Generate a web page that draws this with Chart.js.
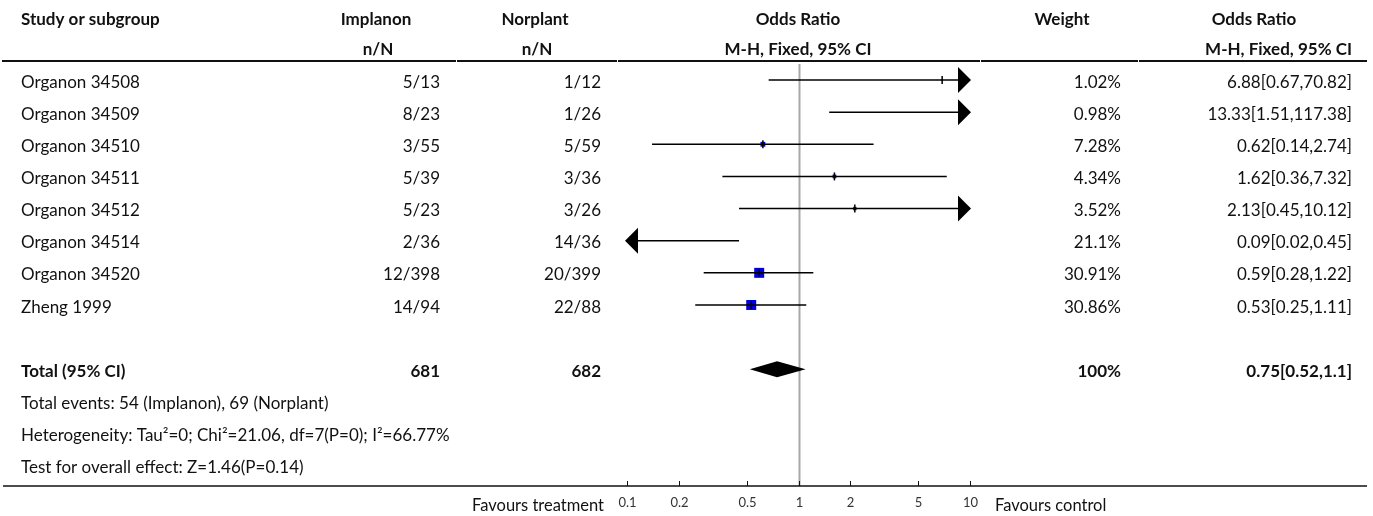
<!DOCTYPE html>
<html><head><meta charset="utf-8">
<script src="https://cdn.jsdelivr.net/npm/chart.js@4.4.0/dist/chart.umd.min.js"></script>
<style>html,body{margin:0;padding:0;background:#fff;}#wrap{position:relative;width:1373px;height:516px;}</style>
</head><body><div id="wrap"><canvas id="c" width="1373" height="516"></canvas></div>
<script>
// ---------- data ----------
const studies = ["Organon 34508","Organon 34509","Organon 34510","Organon 34511","Organon 34512","Organon 34514","Organon 34520","Zheng 1999"];
const implanonEvents = [5,8,3,5,5,2,12,14];
const implanonTotal  = [13,23,55,39,23,36,398,94];
const norplantEvents = [1,1,5,3,3,14,20,22];
const norplantTotal  = [12,26,59,36,26,36,399,88];
const weights = [1.02,0.98,7.28,4.34,3.52,21.1,30.91,30.86];
const oddsRatio = [6.88,13.33,0.62,1.62,2.13,0.09,0.59,0.53];
const ciLow  = [0.67,1.51,0.14,0.36,0.45,0.02,0.28,0.25];
const ciHigh = [70.82,117.38,2.74,7.32,10.12,0.45,1.22,1.11];
const totalLabel = "Total (95% CI)";
const totalImplanon = 681, totalNorplant = 682, totalWeight = 100;
const totalOR = 0.75, totalLow = 0.52, totalHigh = 1.1;
const footnotes = ["Total events: 54 (Implanon), 69 (Norplant)",
  "Heterogeneity: Tau\u00b2=0; Chi\u00b2=21.06, df=7(P=0); I\u00b2=66.77%",
  "Test for overall effect: Z=1.46(P=0.14)"];
const xTicks = [0.1,0.2,0.5,1,2,5,10];
const xMin = 0.1, xMax = 10;
const favoursLeft = "Favours treatment", favoursRight = "Favours control";

// ---------- layout ----------
const W = 1373, H = 516;
const FONT = "Lato";
const FS = 17;
const totalRow = studies.length + 1;

const inRange = v => v >= xMin && v <= xMax;
const squareData = [], squareRadius = [], tickData = [];
studies.forEach((s,i)=>{
  if (inRange(oddsRatio[i])) {
    squareData.push({x: oddsRatio[i], y: i});
    squareRadius.push(10*Math.sqrt(weights[i]/31)/Math.SQRT2);
    tickData.push({x: oddsRatio[i], y: i});
  }
});
const ciDatasets = studies.map((s,i)=>({
  type:'line', data:[{x:ciLow[i],y:i},{x:ciHigh[i],y:i}],
  borderColor:'#000', borderWidth:1.5, pointRadius:0, order:2
}));

function txt(ctx, s, x, y, align, bold, size, color){
  const fs = size || FS;
  ctx.font = (bold?'bold ':'') + fs + 'px ' + FONT;
  ctx.textAlign = align; ctx.textBaseline = 'alphabetic';
  ctx.fillStyle = color || '#111';
  ctx.fillText(s, x, y + 0.36*fs);
}

const forestPlugin = {
  id:'forest',
  beforeDatasetsDraw(chart){
    const ctx = chart.ctx, xs = chart.scales.x;
    const x1 = Math.round(xs.getPixelForValue(1)) + 0.5;
    ctx.save();
    ctx.strokeStyle = '#a8a8a8'; ctx.lineWidth = 2;
    ctx.beginPath(); ctx.moveTo(x1, 64); ctx.lineTo(x1, 486); ctx.stroke();
    ctx.restore();
  },
  afterDatasetsDraw(chart){
    const ctx = chart.ctx, xs = chart.scales.x, ys = chart.scales.y;
    const L = chart.chartArea.left, R = chart.chartArea.right;
    ctx.save();
    ctx.fillStyle = '#000';
    studies.forEach((s,i)=>{
      const y = ys.getPixelForValue(i);
      if (ciHigh[i] > xMax) {
        ctx.beginPath(); ctx.moveTo(R+1, y); ctx.lineTo(R-12, y-13); ctx.lineTo(R-12, y+13); ctx.closePath(); ctx.fill();
      }
      if (ciLow[i] < xMin) {
        ctx.beginPath(); ctx.moveTo(L-2, y); ctx.lineTo(L+11, y-13); ctx.lineTo(L+11, y+13); ctx.closePath(); ctx.fill();
      }
    });
    const yt = ys.getPixelForValue(totalRow);
    ctx.beginPath();
    ctx.moveTo(xs.getPixelForValue(totalLow), yt);
    ctx.lineTo(xs.getPixelForValue(totalOR), yt-8);
    ctx.lineTo(xs.getPixelForValue(totalHigh), yt);
    ctx.lineTo(xs.getPixelForValue(totalOR), yt+8);
    ctx.closePath(); ctx.fill();
    ctx.restore();
  },
  afterDraw(chart){
    const ctx = chart.ctx, xs = chart.scales.x, ys = chart.scales.y;
    ctx.save();
    const h1 = 19, h2 = 49;
    txt(ctx,"Study or subgroup",21,h1,'left',true);
    txt(ctx,"Implanon",376,h1,'center',true);
    txt(ctx,"n/N",378,h2,'center',true);
    txt(ctx,"Norplant",535,h1,'center',true);
    txt(ctx,"n/N",537,h2,'center',true);
    txt(ctx,"Odds Ratio",798,h1,'center',true);
    txt(ctx,"M-H, Fixed, 95% CI",798,h2,'center',true);
    txt(ctx,"Weight",1062,h1,'center',true);
    txt(ctx,"Odds Ratio",1254,h1,'center',true);
    txt(ctx,"M-H, Fixed, 95% CI",1352,h2,'right',true);
    ctx.strokeStyle = '#111'; ctx.lineWidth = 2;
    [[2,456],[457,617],[618,980],[981,1138],[1139,1367]].forEach(([a,b])=>{
      ctx.beginPath(); ctx.moveTo(a,61); ctx.lineTo(b,61); ctx.stroke();
    });
    studies.forEach((s,i)=>{
      const y = ys.getPixelForValue(i) + 1.5;
      txt(ctx,s,21,y,'left',false);
      txt(ctx,implanonEvents[i]+"/"+implanonTotal[i],440,y,'right',false);
      txt(ctx,norplantEvents[i]+"/"+norplantTotal[i],601,y,'right',false);
      txt(ctx,weights[i]+"%",1121,y,'right',false);
      txt(ctx,oddsRatio[i]+"["+ciLow[i]+","+ciHigh[i]+"]",1352,y,'right',false);
    });
    const yt = ys.getPixelForValue(totalRow) + 1.5;
    txt(ctx,totalLabel,21,yt,'left',true);
    txt(ctx,String(totalImplanon),440,yt,'right',true);
    txt(ctx,String(totalNorplant),601,yt,'right',true);
    txt(ctx,totalWeight+"%",1121,yt,'right',true);
    txt(ctx,totalOR+"["+totalLow+","+totalHigh+"]",1352,yt,'right',true);
    footnotes.forEach((f,k)=>{
      txt(ctx,f,21,ys.getPixelForValue(totalRow+1+k)+1.5,'left',false);
    });
    ctx.strokeStyle = '#111'; ctx.lineWidth = 1.5;
    ctx.beginPath(); ctx.moveTo(3,486); ctx.lineTo(1367,486); ctx.stroke();
    ctx.lineWidth = 1;
    xTicks.forEach(t=>{
      const px = Math.round(xs.getPixelForValue(t)) + 0.5;
      ctx.beginPath(); ctx.moveTo(px,486); ctx.lineTo(px,481); ctx.stroke();
      txt(ctx,String(t),px,502,'center',false,13,'#333');
    });
    txt(ctx,favoursLeft,604,505,'right',false,16.5);
    txt(ctx,favoursRight,995,505,'left',false,16.5);
    ctx.restore();
  }
};

new Chart(document.getElementById('c'), {
  type:'scatter',
  data:{ datasets:[
    ...ciDatasets,
    { data: squareData, pointStyle:'rect', pointRadius: squareRadius, pointBackgroundColor:'#0000e0',
      pointBorderWidth:0, pointBorderColor:'#0000e0', order:3 },
    { data: tickData, pointStyle:'line', pointRotation:90, pointRadius:4, pointBorderColor:'#000',
      pointBorderWidth:1.5, order:1 }
  ]},
  options:{
    responsive:false, animation:false, events:[],
    layout:{ padding:{ left:627, right:W-970, top:61, bottom:H-486 } },
    plugins:{ legend:{display:false}, tooltip:{enabled:false} },
    scales:{
      x:{ type:'logarithmic', min:xMin, max:xMax, display:false },
      y:{ type:'linear', min:-0.591, max:12.632, reverse:true, display:false }
    }
  },
  plugins:[forestPlugin]
});
</script></body></html>
